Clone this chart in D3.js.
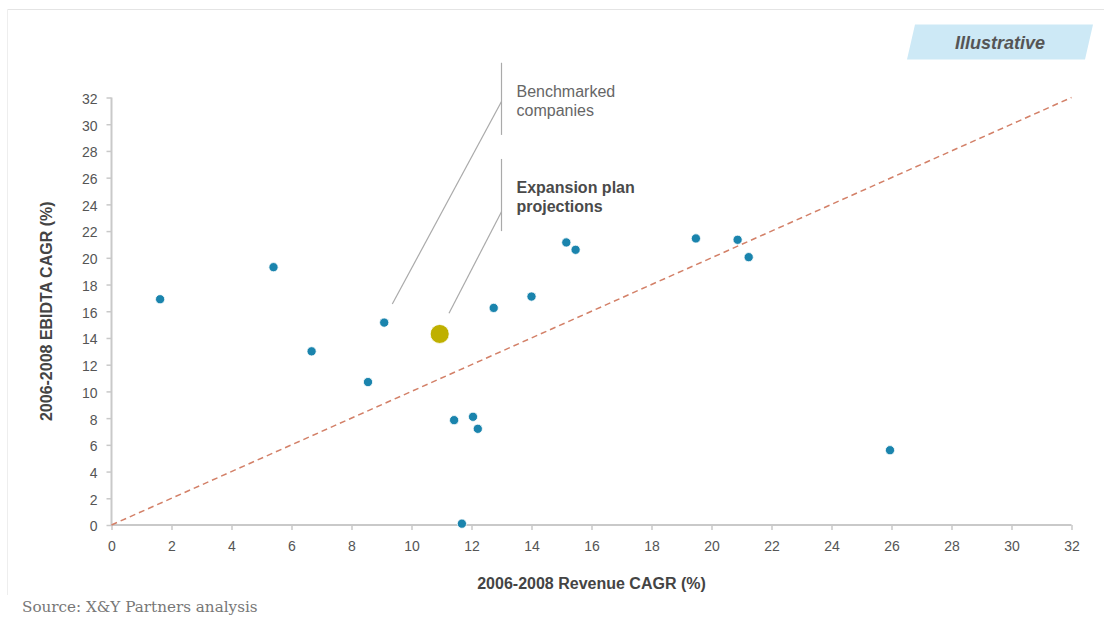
<!DOCTYPE html>
<html>
<head>
<meta charset="utf-8">
<script src="https://cdn.jsdelivr.net/npm/d3@7"></script>
<style>
  html, body { margin: 0; padding: 0; background: #fff; }
  svg { display: block; font-family: "Liberation Sans", Arial, sans-serif; }
</style>
</head>
<body>
<svg id="chart" width="1104" height="625"></svg>
<script>
// ---- Data ----
const companiesX = [1.62, 5.4, 6.67, 8.55, 9.09, 11.42, 12.05, 12.21, 11.68, 12.74, 14.0, 15.16, 15.47, 19.48, 20.87, 21.24, 25.95];
const companiesY = [16.9, 19.3, 13.0, 10.7, 15.15, 7.85, 8.1, 7.2, 0.1, 16.25, 17.1, 21.15, 20.6, 21.45, 21.35, 20.05, 5.6];
const projectionX = [10.94];
const projectionY = [14.3];
const tickValues = [0, 2, 4, 6, 8, 10, 12, 14, 16, 18, 20, 22, 24, 26, 28, 30, 32];
const parityLine = [[0, 0], [32, 32]];
const xTitle = "2006-2008 Revenue CAGR (%)";
const yTitle = "2006-2008 EBIDTA CAGR (%)";
const badgeText = "Illustrative";
const sourceText = "Source: X&Y Partners analysis";
const annotations = [
  { lines: ["Benchmarked", "companies"], bold: false, barTop: 34.6, barBottom: 29.2, from: 31.7, to: [9.36, 16.54] },
  { lines: ["Expansion plan", "projections"], bold: true, barTop: 27.4, barBottom: 22.0, from: 23.45, to: [11.25, 15.85] }
];
const annotationX = 13;

// ---- Layout ----
const svg = d3.select("#chart");
const W = 1104, H = 625;
const x = d3.scaleLinear().domain([0, 32]).range([111.5, 1071.5]);
const y = d3.scaleLinear().domain([0, 32]).range([525, 97.5]);

svg.append("rect").attr("width", W).attr("height", H).attr("fill", "#fff");

// frame lines
svg.append("line").attr("x1", 7.5).attr("x2", W).attr("y1", 9.5).attr("y2", 9.5)
  .attr("stroke", "#e4e4e4").attr("stroke-width", 1);
svg.append("line").attr("x1", 7.5).attr("x2", 7.5).attr("y1", 9.5).attr("y2", 595)
  .attr("stroke", "#eeeeee").attr("stroke-width", 1);

// badge
const bx = [915, 1093, 1085, 907], byTop = 24.5, byBot = 59.5;
svg.append("polygon")
  .attr("points", `${bx[0]},${byTop} ${bx[1]},${byTop} ${bx[2]},${byBot} ${bx[3]},${byBot}`)
  .attr("fill", "#cde9f6");
svg.append("text").attr("x", 1000).attr("y", 49).attr("text-anchor", "middle")
  .attr("font-size", 18).attr("font-weight", "bold").attr("font-style", "italic")
  .attr("fill", "#555").text(badgeText);

// axes
const axisColor = "#c9c9c9";
const xAxis = svg.append("g").attr("transform", `translate(0,${y(0)})`)
  .call(d3.axisBottom(x).tickValues(tickValues).tickSize(5).tickPadding(11).tickFormat(d3.format("d")));
const yAxis = svg.append("g").attr("transform", `translate(${x(0)},0)`)
  .call(d3.axisLeft(y).tickValues(tickValues).tickSize(5).tickPadding(9).tickFormat(d3.format("d")));
[xAxis, yAxis].forEach(g => {
  g.select(".domain").attr("stroke", axisColor).attr("stroke-width", 2);
  g.selectAll(".tick line").attr("stroke", axisColor).attr("stroke-width", 1.5);
  g.selectAll(".tick text").attr("fill", "#555").attr("font-size", 14)
    .attr("font-family", "Liberation Sans, Arial, sans-serif");
});
yAxis.selectAll(".tick text").attr("dy", "0.42em");
xAxis.select(".domain").attr("d", `M${x(0)},0H${x(32)}`);
yAxis.select(".domain").attr("d", `M0,${y(0)}V${y(32)}`);

// parity dashed line
svg.append("path")
  .attr("d", d3.line().x(d => x(d[0])).y(d => y(d[1]))(parityLine))
  .attr("fill", "none").attr("stroke", "#d38068").attr("stroke-width", 1.5)
  .attr("stroke-dasharray", "6,4");

// axis titles
svg.append("text").attr("x", (x(0) + x(32)) / 2).attr("y", 589)
  .attr("text-anchor", "middle").attr("font-size", 16).attr("font-weight", "bold")
  .attr("fill", "#444").text(xTitle);
svg.append("text")
  .attr("transform", `translate(52,${(y(0) + y(32)) / 2}) rotate(-90)`)
  .attr("text-anchor", "middle").attr("font-size", 16).attr("font-weight", "bold")
  .attr("fill", "#444").text(yTitle);

// annotations
annotations.forEach(a => {
  const ax = x(annotationX);
  svg.append("line").attr("x1", ax).attr("x2", ax).attr("y1", y(a.barTop)).attr("y2", y(a.barBottom))
    .attr("stroke", "#aaa").attr("stroke-width", 1.2);
  svg.append("line").attr("x1", ax).attr("y1", y(a.from)).attr("x2", x(a.to[0])).attr("y2", y(a.to[1]))
    .attr("stroke", "#aaa").attr("stroke-width", 1.2);
  const t = svg.append("text").attr("font-size", 16)
    .attr("font-weight", a.bold ? "bold" : "normal")
    .attr("fill", a.bold ? "#4a4a4a" : "#666");
  a.lines.forEach((ln, i) => {
    t.append("tspan").attr("x", ax + 15).attr("y", y(a.barTop) + 34 + i * 19.5).text(ln);
  });
});

// points
svg.append("g").selectAll("circle")
  .data(companiesX.map((v, i) => [v, companiesY[i]]))
  .join("circle")
  .attr("cx", d => x(d[0])).attr("cy", d => y(d[1])).attr("r", 4.6)
  .attr("fill", "#1a84ad").attr("stroke", "#fff").attr("stroke-width", 0.8);
svg.append("g").selectAll("circle")
  .data(projectionX.map((v, i) => [v, projectionY[i]]))
  .join("circle")
  .attr("cx", d => x(d[0])).attr("cy", d => y(d[1])).attr("r", 9.5)
  .attr("fill", "#bfb000").attr("stroke", "#fff").attr("stroke-width", 0.8);

// source
svg.append("text").attr("x", 22).attr("y", 612)
  .attr("font-family", "DejaVu Serif, serif").attr("font-size", 15.2)
  .attr("fill", "#777").text(sourceText);
</script>
</body>
</html>
